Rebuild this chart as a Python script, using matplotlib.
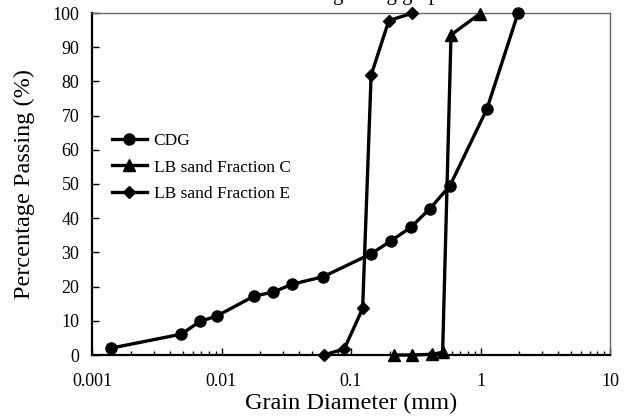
import matplotlib
matplotlib.use("Agg")
import matplotlib.pyplot as plt

plt.rcParams['font.family'] = ['Liberation Serif', 'DejaVu Serif']

cdg_d = [0.0014, 0.0049, 0.0068, 0.0092, 0.0178, 0.0251, 0.0352, 0.0611,
         0.143, 0.204, 0.289, 0.407, 0.581, 1.12, 1.95]
cdg_p = [2.0, 6.1, 9.8, 11.4, 17.2, 18.4, 20.7, 22.9,
         29.6, 33.4, 37.3, 42.8, 49.5, 71.9, 100.0]

c_d = [0.215, 0.297, 0.424, 0.51, 0.592, 0.99]
c_p = [0.0, 0.0, 0.2, 0.8, 93.6, 99.8]

e_d = [0.0618, 0.0888, 0.123, 0.143, 0.196, 0.296]
e_p = [0.0, 1.8, 13.6, 81.8, 97.8, 99.9]

fig = plt.figure(figsize=(6.25, 4.17), dpi=100)
ax = fig.add_axes([92 / 625, 1 - 355 / 417, 518 / 625, 342 / 417])

ax.plot(cdg_d, cdg_p, color='black', lw=2.4, marker='o', ms=8,
        label='CDG', clip_on=False, zorder=3)
ax.plot(c_d, c_p, color='black', lw=2.4, marker='^', ms=8,
        label='LB sand Fraction C', clip_on=False, zorder=3)
ax.plot(e_d, e_p, color='black', lw=2.4, marker='D', ms=6,
        label='LB sand Fraction E', clip_on=False, zorder=3)

ax.set_xscale('log')
ax.set_xlim(0.001, 10)
ax.set_ylim(0, 100)
ax.set_yticks(range(0, 101, 10))
ax.set_xticks([0.001, 0.01, 0.1, 1, 10])
ax.set_xticklabels(['0.001', '0.01', '0.1', '1', '10'])

ax.tick_params(axis='both', which='both', direction='in', labelsize=13,
               color='black')
ax.tick_params(axis='both', which='major', length=5, width=1)
ax.tick_params(axis='x', which='minor', length=3, width=1)
ax.tick_params(axis='x', pad=13)
ax.tick_params(axis='y', pad=9)

for s in ['left', 'bottom']:
    ax.spines[s].set_linewidth(1.6)
    ax.spines[s].set_color('black')
for s in ['top', 'right']:
    ax.spines[s].set_linewidth(1.0)
    ax.spines[s].set_color('#666666')

ax.set_xlabel('Grain Diameter (mm)', fontsize=17.5, labelpad=2)
ax.set_ylabel('Percentage Passing (%)', fontsize=17.5, labelpad=13)

ax.legend(loc='upper left', bbox_to_anchor=(0.025, 0.67), frameon=False,
          fontsize=12.5, handlelength=2.0, handletextpad=0.4,
          labelspacing=0.6, borderaxespad=0)

fig.text(0.54, 1.0, 'Particle size grading graph', ha='center',
         va='baseline', fontsize=15)

fig.savefig('out.png', dpi=100)
